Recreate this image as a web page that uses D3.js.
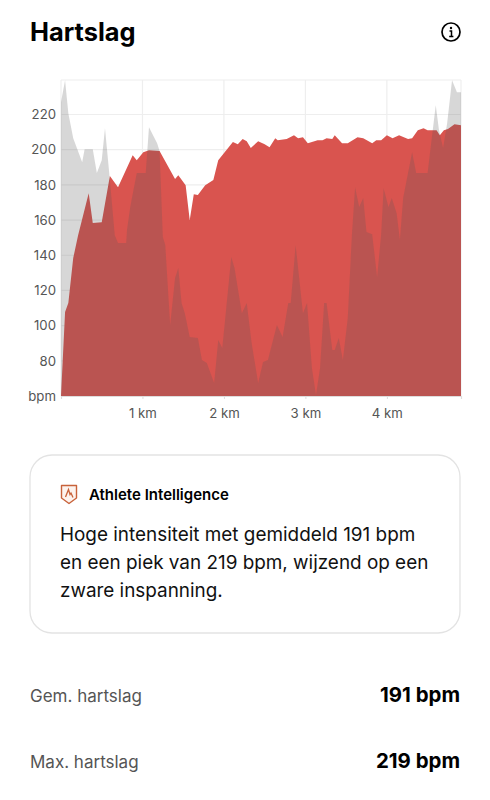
<!DOCTYPE html>
<html><head><meta charset="utf-8">
<script src="https://cdn.jsdelivr.net/npm/d3@7"></script>
<style>
html,body{margin:0;padding:0;background:#fff;overflow:hidden}
text{font-family:Inter,"Noto Sans",sans-serif}
</style></head><body><svg id="c" width="490" height="800"></svg>
<script>
const hrKm=[0,.05,.09,.15,.21,.34,.39,.50,.60,.70,.88,.93,1.01,1.08,1.21,1.40,1.44,1.53,1.58,1.63,1.68,1.77,1.87,1.93,2.11,2.17,2.23,2.28,2.33,2.42,2.50,2.56,2.63,2.66,2.77,2.86,2.91,2.97,3.03,3.15,3.21,3.26,3.33,3.36,3.45,3.52,3.64,3.71,3.82,3.87,3.93,4.00,4.07,4.15,4.26,4.31,4.38,4.45,4.50,4.61,4.65,4.70,4.75,4.83,4.91];
const hrBpm=[60,107.7,112.8,138.4,151.4,175.3,158.3,158.8,185,178.7,196.9,194,198.6,199.7,199.2,183.3,185.5,179.8,160,174.7,174.2,179.8,182.7,194,204.3,203.1,206,204.8,200.9,204.8,203.1,201.4,206.5,205.4,206,208.2,206.5,207.1,203.7,205.4,205.4,206.5,206,208.2,203.7,203.7,207.1,206.5,203.7,205.4,205.4,208.2,206.5,208.2,206,206.5,211,212.2,211,211,208.2,211,211.7,214.5,213.9];
const otherKm=[0,.05,.09,.15,.26,.29,.39,.44,.50,.54,.60,.66,.70,.80,.81,.85,.93,1.04,1.08,1.18,1.21,1.25,1.28,1.34,1.40,1.44,1.48,1.52,1.58,1.68,1.73,1.79,1.88,1.93,1.98,2.09,2.13,2.22,2.28,2.34,2.42,2.48,2.54,2.65,2.72,2.79,2.82,2.88,2.97,3.02,3.08,3.13,3.18,3.23,3.26,3.33,3.36,3.41,3.46,3.52,3.57,3.61,3.66,3.71,3.75,3.82,3.88,3.93,3.96,4.02,4.06,4.12,4.16,4.20,4.31,4.36,4.50,4.60,4.64,4.69,4.74,4.80,4.86,4.91];
const otherVal=[227,239.5,220.7,206.5,192.9,200.3,200.3,186.7,194,212.2,182.7,151.4,146.9,146.9,154.3,167.4,186.7,186.7,212.8,203.7,199.2,150.3,145.8,100.3,127,132.7,112.8,107.1,93.5,92.9,80.4,78.7,67.4,91.8,87.3,139,132.7,107.1,112.8,90.1,67.4,79.3,80.4,100.3,93.5,112.8,112.8,145.8,107.1,112.8,75.9,60.6,75.9,112.8,112.8,86.1,86.1,92.9,80.4,104.3,150.9,178.7,167.4,172.5,153.2,152,127.6,152,178.1,167.4,172.5,163.9,148.6,172.5,198.6,186.7,186.7,225.3,211,200.9,215,239.5,232.7,232.7];
const yTicks=[60,80,100,120,140,160,180,200,220];
const xTicks=[1,2,3,4];
const statLabels=["Gem. hartslag","Max. hartslag"];
const statValues=["191 bpm","219 bpm"];
const insightLines=["Hoge intensiteit met gemiddeld 191 bpm","en een piek van 219 bpm, wijzend op een","zware inspanning."];

const svg=d3.select("#c");
const x=d3.scaleLinear().domain([0,4.91]).range([61,461]);
const y=d3.scaleLinear().domain([60,239.6]).range([396,80]);

svg.append("text").attr("x",30).attr("y",41).attr("font-size",25.4).attr("font-weight",700).attr("fill","#000").text("Hartslag");
const info=svg.append("g").attr("transform","translate(451,32)");
info.append("circle").attr("r",9).attr("fill","none").attr("stroke","#000").attr("stroke-width",1.7);
info.append("circle").attr("cy",-4).attr("r",1.2).attr("fill","#000");
info.append("path").attr("d","M-1.5,-1H0.5V4M-1.8,4.4H2.4").attr("fill","none").attr("stroke","#000").attr("stroke-width",1.5);

// grid
const grid=svg.append("g").attr("stroke","#eeeeee").attr("stroke-width",1.2);
grid.selectAll(".h").data(yTicks.slice(1).concat([239.6])).join("line").attr("x1",61).attr("x2",461).attr("y1",d=>y(d)).attr("y2",d=>y(d));
grid.selectAll(".v").data([0].concat(xTicks,[4.91])).join("line").attr("y1",80).attr("y2",396).attr("x1",d=>x(d)).attr("x2",d=>x(d));

const area=d3.area().x(d=>x(d[0])).y0(y(60)).y1(d=>y(d[1]));
svg.append("path").datum(d3.zip(hrKm,hrBpm)).attr("d",area).attr("fill","#d9544f");
svg.append("path").datum(d3.zip(otherKm,otherVal)).attr("d",area).attr("fill","rgb(88,88,88)").attr("fill-opacity",.24);

// axes
const ax=svg.append("g").attr("transform","translate(0,396)").call(d3.axisBottom(x).tickValues([0].concat(xTicks,[4.91])).tickSize(3).tickFormat(d=>xTicks.includes(d)?d+" km":""));
ax.select(".domain").attr("stroke","#dddddd").attr("stroke-width",1.2);
ax.selectAll("line").attr("stroke","#dddddd");
ax.selectAll("text").attr("font-size",13.2).attr("fill","#555").attr("y",13).attr("dy","0.71em").style("font-family","Inter");
const ay=svg.append("g").attr("transform","translate(56,0)").call(d3.axisLeft(y).tickValues(yTicks).tickSize(0).tickPadding(0).tickFormat(d=>d===60?"bpm":d));
ay.select(".domain").remove();
ay.selectAll("text").attr("font-size",13.2).attr("fill","#555").style("font-family","Inter");

// card
svg.append("rect").attr("x",30).attr("y",455).attr("width",430).attr("height",178).attr("rx",22).attr("fill","#fff").attr("stroke","#e3e3e3").attr("stroke-width",1.3);
const ic=svg.append("g").attr("transform","translate(69,494)");
ic.append("path").attr("d","M-7.5,-8.5H7.5V4L0,9.5L-7.5,4Z").attr("fill","#fdf3ee").attr("stroke","#c8623a").attr("stroke-width",1.4).attr("stroke-linejoin","round");
ic.append("path").attr("d","M-3.5,3L-0.5,-4.5L1,0.5L2,-1L4,3.5").attr("fill","none").attr("stroke","#c8623a").attr("stroke-width",1.3);
svg.append("text").attr("x",89).attr("y",500).attr("font-size",15).attr("font-weight",600).attr("fill","#000").text("Athlete Intelligence");
svg.selectAll(".ins").data(insightLines).join("text").attr("x",60).attr("y",(d,i)=>541+i*28).attr("font-size",18.9).attr("fill","#111").text(d=>d);

// stats
statLabels.forEach((l,i)=>{
 const yy=702+i*66;
 svg.append("text").attr("x",30).attr("y",yy).attr("font-size",17).attr("fill","#555").text(l);
 svg.append("text").attr("x",460).attr("y",yy).attr("text-anchor","end").attr("font-size",20.4).attr("font-weight",700).attr("fill","#000").text(statValues[i]);
});
</script></body></html>
